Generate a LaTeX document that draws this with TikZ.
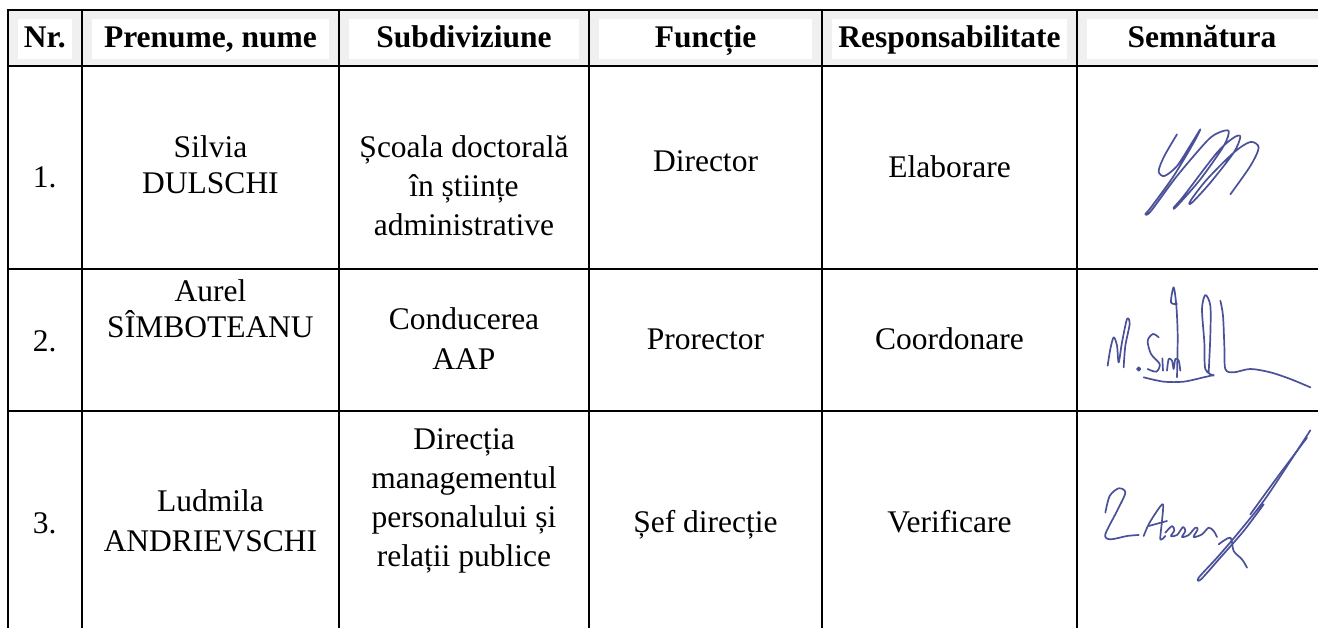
\documentclass[tikz,border=0pt]{standalone}
\usepackage{fontspec}
\setmainfont{Liberation Serif}
\definecolor{headgray}{HTML}{F0F0F0}
\definecolor{ink}{HTML}{4A5199}

\begin{document}
\begin{tikzpicture}[x=1pt,y=-1pt,
  cell/.style={anchor=base,inner sep=0pt,align=center,font=\fontsize{31.5}{36}\selectfont},
  head/.style={cell,font=\fontsize{31.5}{36}\selectfont\bfseries},
  ink/.style={draw=ink,line width=1.7pt,line cap=round,line join=round}]
  \useasboundingbox (0,0) rectangle (1318,628);
  \fill[headgray] (7.6,10) rectangle (1318,66.5);
  \foreach \a/\b in {7.6/82,82/339,339/589,589/822,822/1077,1077/1328}
    \fill[white] (\a+10,19) rectangle (\b-10,59);
  \foreach \y in {10,66.5,269,411}
    \draw[line width=2pt] (6.6,\y) -- (1318,\y);
  \foreach \x in {7.6,82,339,589,822,1077}
    \draw[line width=2pt] (\x,9) -- (\x,628);

  % header
  \node[head] (nr) at (44.8,48) {Nr.};
  \node[head] (name) at (210.5,48) {Prenume, nume};
  \node[head] (sub) at (464,48) {Subdiviziune};
  \node[head] (fn) at (705.5,48) {Funcție};
  \node[head] (resp) at (949.5,48) {Responsabilitate};
  \node[head] (sign) at (1202,48) {Semnătura};

  % rows (multi-line cells sit on their last line)
  \node[cell] (nr1) at (44.8,188) {1.};
  \node[cell] (name1) at (210.5,194) {Silvia\\DULSCHI};
  \node[cell] (sub1) at (464,236) {Școala doctorală\\[3pt]în științe\\[3pt]administrative};
  \node[cell] (fn1) at (705.5,172) {Director};
  \node[cell] (resp1) at (949.5,178) {Elaborare};

  \node[cell] (nr2) at (44.8,352) {2.};
  \node[cell] (name2) at (210.5,338) {Aurel\\SÎMBOTEANU};
  \node[cell] (sub2) at (464,370) {Conducerea\\[4pt]AAP};
  \node[cell] (fn2) at (705.5,350) {Prorector};
  \node[cell] (resp2) at (949.5,350) {Coordonare};

  \node[cell] (nr3) at (44.8,533) {3.};
  \node[cell] (name3) at (210.5,551) {Ludmila\\[4pt]ANDRIEVSCHI};
  \node[cell] (sub3) at (464,566) {Direcția\\[3pt]managementul\\[3pt]personalului și\\[3pt]relații publice};
  \node[cell] (fn3) at (705.5,532) {Șef direcție};
  \node[cell] (resp3) at (949.5,532) {Verificare};

  % signatures
  \begin{scope}[shift={(1077,66)},scale=1/3]
    \draw[ink] plot[smooth,tension=0.5] coordinates {(300,205) (262,270) (245,315) (262,330)
      (300,300) (345,230) (370,190) (350,230) (290,330) (225,420) (205,445) (222,435)
      (300,330) (390,225) (425,200) (455,195) (440,240) (370,340) (300,420) (290,425)
      (320,390) (420,260) (470,215) (490,212) (470,260) (400,350) (345,410) (340,405)
      (390,340) (470,260) (520,228) (545,245) (520,300) (460,385)};
  \end{scope}
  \begin{scope}[shift={(1077,269)},scale=1/3]
    \draw[ink] plot[smooth,tension=0.5] coordinates {(92,290) (100,240) (110,205) (120,230)
      (125,280) (135,220) (150,150) (158,165) (145,230) (140,295)};
    \fill[ink] (185,300) circle (5);
    \draw[ink] plot[smooth,tension=0.5] coordinates {(245,205) (228,195) (212,215) (222,255)
      (248,285) (238,308) (212,300)};
    \draw[ink] (256,268) -- (258,305);
    \draw[ink] plot[smooth,tension=0.5] coordinates {(270,305) (275,270) (285,275) (290,300)
      (295,270) (305,275) (310,305)};
    \draw[ink] plot[smooth,tension=0.5] coordinates {(200,325) (260,338) (320,338) (380,325) (410,318)};
    \draw[ink] plot[smooth,tension=0.5] coordinates {(300,325) (302,200) (298,110) (290,55)
      (282,100) (300,105)};
    \draw[ink] plot[smooth,tension=0.5] coordinates {(395,310) (400,200) (400,110) (385,78)
      (375,120) (382,220) (385,300) (410,320)};
    \draw[ink] plot[smooth,tension=0.5] coordinates {(430,95) (438,140) (442,230) (445,300)
      (470,310) (520,300) (580,310) (640,330) (700,355)};
  \end{scope}
  \begin{scope}[shift={(1077,411)},scale=1/3]
    \draw[ink] plot[smooth,tension=0.5] coordinates {(85,305) (98,255) (125,232) (145,245)
      (120,300) (85,370) (100,385) (150,375) (185,372)};
    \draw[ink] plot[smooth,tension=0.5] coordinates {(200,375) (215,340) (240,300) (258,280)
      (255,330) (250,385) (265,375)};
    \draw[ink] (215,345) -- (270,330);
    \draw[ink] plot[smooth,tension=0.5] coordinates {(265,365) (285,345) (292,358) (282,375)
      (300,372) (318,348) (325,360) (315,378) (335,372) (355,350) (362,355) (350,378)
      (375,370) (395,350) (410,360) (420,378)};
    \draw[ink] plot[smooth,tension=0.5] coordinates {(700,58) (640,150) (560,270) (480,370)
      (420,440) (365,500) (372,505) (430,440) (500,360) (560,280)};
    \draw[ink] plot[smooth,tension=0.5] coordinates {(690,80) (600,200) (520,310)};
    \draw[ink] plot[smooth,tension=0.5] coordinates {(425,400) (460,380) (470,420) (495,445) (510,470)};
  \end{scope}
\end{tikzpicture}
\end{document}
